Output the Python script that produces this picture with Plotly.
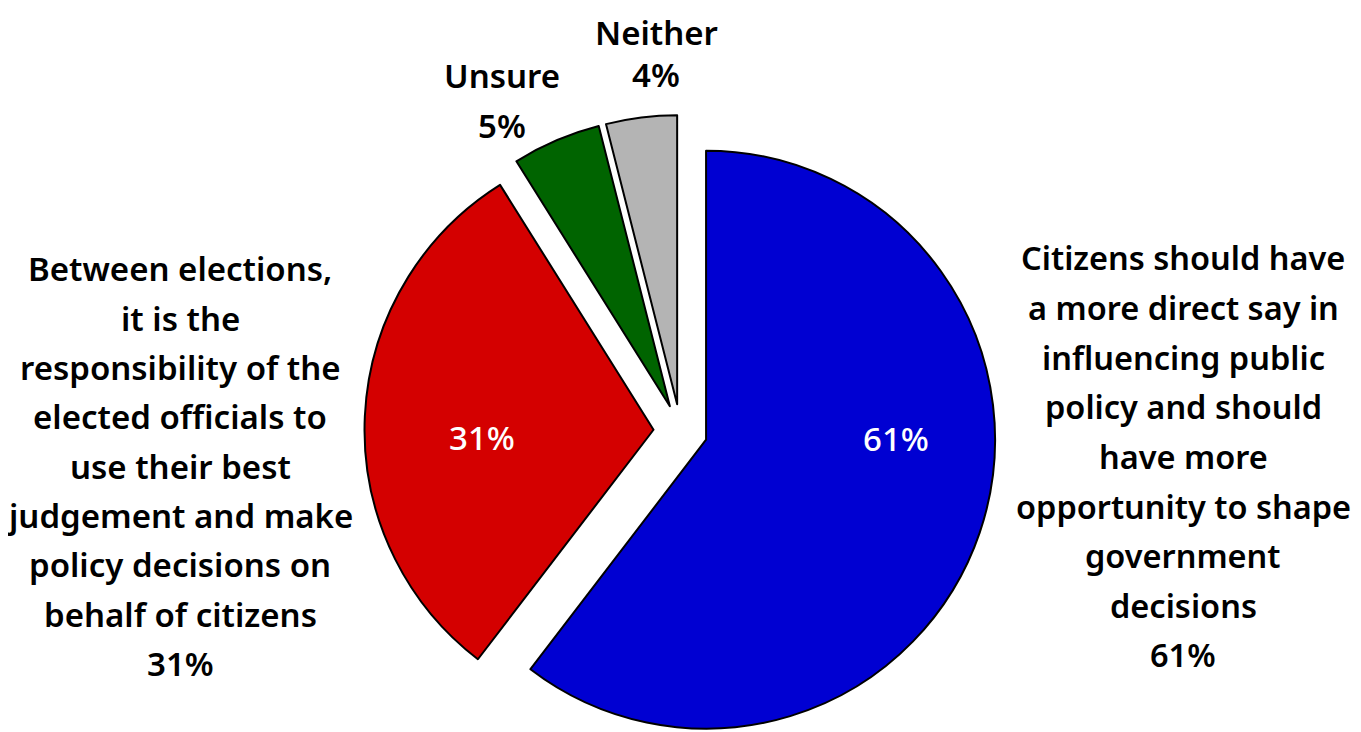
import math
import plotly.graph_objects as go

# ---- data ----
categories = ["Citizens should have more say", "Elected officials decide", "Unsure", "Neither"]
values = [61, 31, 5, 4]
pct_labels = ["61%", "31%", "5%", "4%"]
colors = ["#0000d2", "#d40000", "#006400", "#b4b4b4"]

right_lines = ["Citizens should have", "a more direct say in", "influencing public",
               "policy and should", "have more", "opportunity to shape",
               "government", "decisions", "61%"]
left_lines = ["Between elections,", "it is the", "responsibility of the",
              "elected officials to", "use their best", "judgement and make",
              "policy decisions on", "behalf of citizens", "31%"]
unsure_lines = ["Unsure", "5%"]
neither_lines = ["Neither", "4%"]

# ---- layout constants (pixels) ----
OFF = 8                       # page body margin
W, H = 1361 - OFF, 732 - OFF  # figure size that fits the window
FONT = "Noto Sans"
CX, CY = 680.5 - OFF, 431 - OFF   # centre of the un-exploded pie (figure px)
R = 289                # pie radius
EXPLODE = 27           # explode distance of every slice

fig = go.Figure()

total = sum(values)
cum = 0.0
for i, v in enumerate(values):
    mid = 2 * math.pi * (cum + v / 2) / total
    cum += v
    cx = CX + EXPLODE * math.sin(mid)
    cy = CY - EXPLODE * math.cos(mid)
    slice_colors = [colors[j] if j == i else "rgba(0,0,0,0)" for j in range(len(values))]
    line_w = [2 if j == i else 0 for j in range(len(values))]
    y0 = max(0.0, 1 - (cy + R) / H)
    y1 = min(1.0, 1 - (cy - R) / H)
    fig.add_trace(go.Pie(
        labels=categories,
        values=values,
        sort=False,
        direction="clockwise",
        rotation=0,
        marker=dict(colors=slice_colors, line=dict(color="#000000", width=line_w)),
        textinfo="none",
        hoverinfo="skip",
        showlegend=False,
        domain=dict(x=[(cx - R) / W, (cx + R) / W], y=[y0, y1]),
    ))

annotations = []


def add_block(lines, sx, sy0, spacing, color="#000000", size=33, weight=600):
    """sx, sy0: screen-pixel centre of the first line."""
    for k, line in enumerate(lines):
        fx = sx - OFF
        fy = sy0 + k * spacing - OFF - 1
        annotations.append(dict(
            x=fx / W, y=1 - fy / H, xref="paper", yref="paper",
            text=line, showarrow=False, xanchor="center", yanchor="middle",
            font=dict(family=FONT, size=size, color=color, weight=weight),
        ))


add_block(left_lines, 180, 270, 49.3)
add_block(right_lines, 1183, 259, 49.6, size=32.5)
add_block(unsure_lines, 502, 77, 50)
add_block(neither_lines, 656, 33, 42)
add_block([pct_labels[1]], 482, 438, 0, color="#ffffff", weight=500)
add_block([pct_labels[0]], 896, 440, 0, color="#ffffff", weight=500)

fig.update_layout(
    width=W, height=H,
    margin=dict(l=0, r=0, t=0, b=0),
    paper_bgcolor="#ffffff",
    plot_bgcolor="#ffffff",
    annotations=annotations,
)

fig.write_html("out.html")
